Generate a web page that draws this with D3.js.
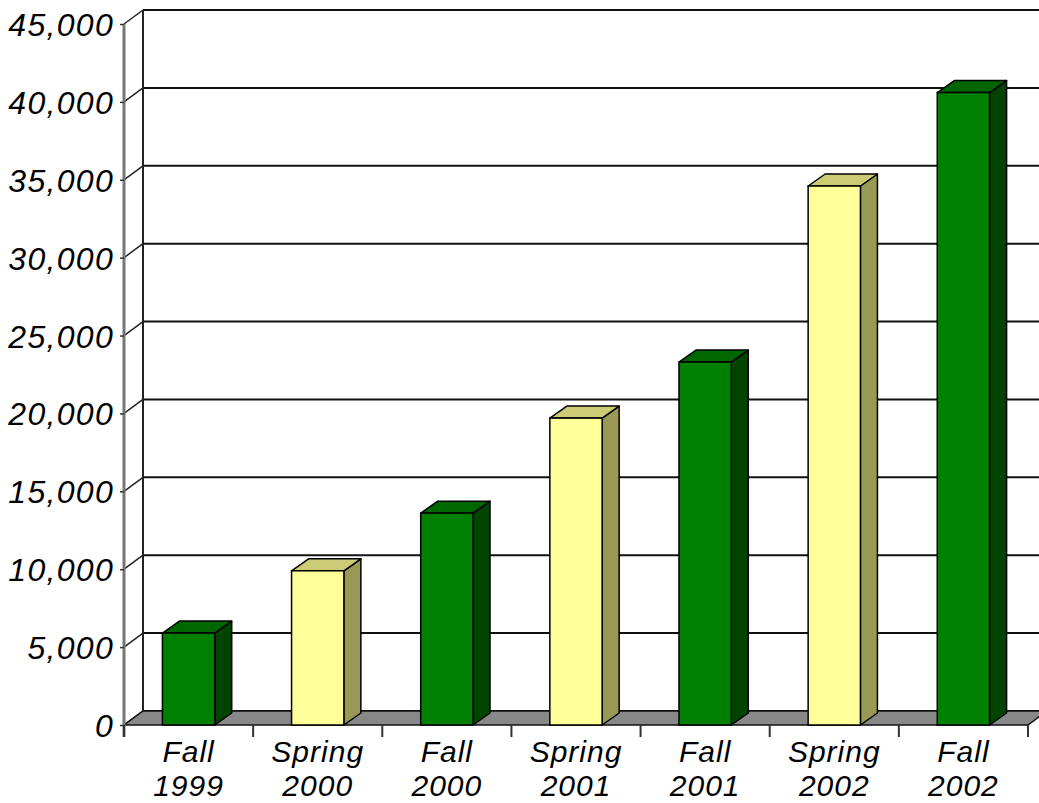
<!DOCTYPE html>
<html>
<head>
<meta charset="utf-8">
<script src="https://cdn.jsdelivr.net/npm/d3@7"></script>
<style>
  body { margin: 0; background: #fff; }
  text { font-family: 'Liberation Sans', Arial, sans-serif; font-style: italic; fill: #000; }
</style>
</head>
<body>
<script>

const seasons = ['Fall', 'Spring', 'Fall', 'Spring', 'Fall', 'Spring', 'Fall']
const years = ['1999', '2000', '2000', '2001', '2001', '2002', '2002']
const values = [5900, 9900, 13600, 19700, 23300, 34600, 40600]
const yTicks = [0, 5000, 10000, 15000, 20000, 25000, 30000, 35000, 40000, 45000]

const faceColors = {
    Fall: { front: '#008000', side: '#004400', top: '#006600' },
    Spring: { front: '#ffff99', side: '#999955', top: '#cccc77' }
}

const renderChart = () => {

    const w = 1039
    const h = 803

    // depth of the walls and of the bars
    const wallDx = 19
    const wallDy = -14
    const barDx = 17
    const barDy = -12

    const svg = d3.select('body')
        .append('svg')
            .attr('width', w)
            .attr('height', h)

    const cats = seasons.map((s, i) => `${s} ${years[i]}`)

    const xScale = d3.scaleBand()
        .domain(cats)
        .range([124, 1028])

    const yScale = d3.scaleLinear()
        .domain([0, 45000])
        .range([725, 24])

    const left = xScale.range()[0]
    const right = xScale.range()[1]

    // back wall grid
    svg.append('g')
        .selectAll('line')
        .data(yTicks)
        .enter()
        .append('line')
            .attr('x1', left + wallDx)
            .attr('x2', w)
            .attr('y1', d => yScale(d) + wallDy)
            .attr('y2', d => yScale(d) + wallDy)
            .attr('stroke', '#111')
            .attr('stroke-width', 2)

    // left edge of back wall
    svg.append('line')
        .attr('x1', left + wallDx)
        .attr('x2', left + wallDx)
        .attr('y1', yScale(45000) + wallDy)
        .attr('y2', yScale(0) + wallDy)
        .attr('stroke', '#222')
        .attr('stroke-width', 2)

    // side wall diagonals (ticks)
    svg.append('g')
        .selectAll('line')
        .data(yTicks)
        .enter()
        .append('line')
            .attr('x1', left)
            .attr('x2', left + wallDx)
            .attr('y1', d => yScale(d))
            .attr('y2', d => yScale(d) + wallDy)
            .attr('stroke', '#222')
            .attr('stroke-width', 1.5)

    // floor
    const y0 = yScale(0)
    svg.append('path')
        .attr('d', `M${left},${y0} L${right},${y0} L${right + wallDx},${y0 + wallDy} L${left + wallDx},${y0 + wallDy} Z`)
        .attr('fill', '#888')
        .attr('stroke', '#111')
        .attr('stroke-width', 1.5)

    // y axis
    const yAxis = d3.axisLeft(yScale)
        .tickValues(yTicks)
        .tickSize(4)
        .tickFormat(d3.format(','))

    const yAxisG = svg.append('g')
        .attr('transform', `translate(${left}, 0)`)
        .call(yAxis)

    yAxisG.select('.domain')
        .attr('d', `M0,${yScale(45000)} V${y0 + 12}`)
        .attr('stroke', '#777')
        .attr('stroke-width', 3)
    yAxisG.selectAll('.tick line').attr('stroke', '#333').attr('stroke-width', 1.5)
    yAxisG.selectAll('.tick text')
        .attr('x', -10)
        .attr('dy', '0.36em')
        .style('font-size', '32px')
        .style('letter-spacing', '1.3px')
        .style('font-family', "'Liberation Sans', Arial, sans-serif")
        .style('font-style', 'italic')
        .attr('fill', '#000')

    // x axis ticks at band boundaries
    const boundaries = cats.map(c => xScale(c)).concat([right])
    svg.append('g')
        .selectAll('line')
        .data(boundaries)
        .enter()
        .append('line')
            .attr('x1', d => d)
            .attr('x2', d => d)
            .attr('y1', y0)
            .attr('y2', y0 + 12)
            .attr('stroke', '#333')
            .attr('stroke-width', 2)

    // x labels, two lines each
    const labelX = d => xScale(d) + xScale.bandwidth() / 2

    svg.append('g')
        .selectAll('text')
        .data(cats)
        .enter()
        .append('text')
            .attr('text-anchor', 'middle')
            .attr('x', labelX)
            .attr('y', 762)
            .style('font-size', '30px')
            .style('letter-spacing', '1px')
            .text((d, i) => seasons[i])

    svg.append('g')
        .selectAll('text')
        .data(cats)
        .enter()
        .append('text')
            .attr('text-anchor', 'middle')
            .attr('x', labelX)
            .attr('y', 796)
            .style('font-size', '30px')
            .style('letter-spacing', '1px')
            .text((d, i) => years[i])

    // bars
    const barW = xScale.bandwidth() * 0.405
    const bars = svg.append('g')
        .selectAll('g')
        .data(values)
        .enter()
        .append('g')

    const bx = (i) => xScale(cats[i]) + (xScale.bandwidth() - barW) / 2

    bars.append('path')
        .attr('d', (d, i) => {
            const x1 = bx(i) + barW
            const yt = yScale(d)
            return `M${x1},${y0} L${x1},${yt} L${x1 + barDx},${yt + barDy} L${x1 + barDx},${y0 + barDy} Z`
        })
        .attr('fill', (d, i) => faceColors[seasons[i]].side)
        .attr('stroke', '#000')
        .attr('stroke-width', 1.5)
        .attr('stroke-linejoin', 'round')

    bars.append('path')
        .attr('d', (d, i) => {
            const x0 = bx(i)
            const yt = yScale(d)
            return `M${x0},${yt} L${x0 + barW},${yt} L${x0 + barW + barDx},${yt + barDy} L${x0 + barDx},${yt + barDy} Z`
        })
        .attr('fill', (d, i) => faceColors[seasons[i]].top)
        .attr('stroke', '#000')
        .attr('stroke-width', 1.5)
        .attr('stroke-linejoin', 'round')

    bars.append('rect')
        .attr('x', (d, i) => bx(i))
        .attr('y', d => yScale(d))
        .attr('width', barW)
        .attr('height', d => y0 - yScale(d))
        .attr('fill', (d, i) => faceColors[seasons[i]].front)
        .attr('stroke', '#000')
        .attr('stroke-width', 1.5)
}

renderChart()

</script>
</body>
</html>
